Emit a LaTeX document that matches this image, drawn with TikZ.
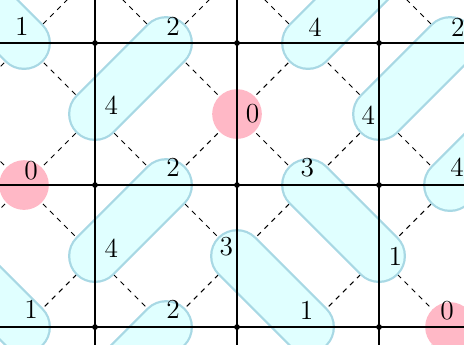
\documentclass[tikz,border=0pt]{standalone}
\definecolor{dimerfill}{RGB}{224,255,255}
\definecolor{dimerline}{RGB}{168,216,228}
\definecolor{monomerfill}{RGB}{255,184,198}
\begin{document}
\begin{tikzpicture}
  % Styling
  \tikzset{
    gridline/.style={line width=0.5pt, black},
    diag/.style={line width=0.4pt, black, dash pattern=on 2pt off 2pt},
    pillborder/.style={line width=21.6pt, line cap=round, draw=dimerline},
    pillfill/.style={line width=19.8pt, line cap=round, draw=dimerfill},
    monomer/.style={circle, fill=monomerfill, minimum size=0.7cm, inner sep=0pt},
    vertex/.style={circle, fill=black, minimum size=2.3pt, inner sep=0pt},
    num/.style={font=\fontsize{11}{13}\selectfont, inner sep=0pt, black}
  }

  \useasboundingbox (-0.338,-0.239) rectangle (6.197,4.606);
  \clip (-0.338,-0.239) rectangle (6.197,4.606);

  % ===== Sites =====
  \coordinate (s04) at (0,4);
  \coordinate (s24) at (2,4);
  \coordinate (s44) at (4,4);
  \coordinate (s64) at (6,4);
  \coordinate (s13) at (1,3);
  \coordinate (s53) at (5,3);
  \coordinate (s22) at (2,2);
  \coordinate (s42) at (4,2);
  \coordinate (s62) at (6,2);
  \coordinate (s11) at (1,1);
  \coordinate (s31) at (3,1);
  \coordinate (s51) at (5,1);
  \coordinate (s00) at (0,0);
  \coordinate (s20) at (2,0);
  \coordinate (s40) at (4,0);
  % sites outside the frame
  \coordinate (out1) at (-1,5);
  \coordinate (out2) at (5,5);
  \coordinate (out3) at (7,3);
  \coordinate (out4) at (-1,1);
  \coordinate (out5) at (1,-1);

  % ===== Dashed lattice =====
  \foreach \c in {-4,-2,...,6}
    \draw[diag] (\c-1,-1) -- (\c+6,6);
  \foreach \c in {0,2,...,10}
    \draw[diag] (\c+1,-1) -- (\c-6,6);

  % ===== Dimers =====
  \foreach \a/\b in {s04/out1, s13/s24, s44/out2, s53/s64, s11/s22,
                     s31/s40, s42/s51, s62/out3, s00/out4, s20/out5} {
    \draw[pillborder] (\a) -- (\b);
    \draw[pillfill] (\a) -- (\b);
  }

  % ===== Monomers =====
  \node[monomer] (mono1) at (3,3) {};
  \node[monomer] (mono2) at (0,2) {};
  \node[monomer] (mono3) at (6,0) {};

  % ===== Square grid =====
  \foreach \x in {1,3,5}
    \draw[gridline] (\x,-0.5) -- (\x,5);
  \foreach \y in {0,2,4}
    \draw[gridline] (-0.5,\y) -- (6.5,\y);
  \foreach \x in {1,3,5}
    \foreach \y in {0,2,4}
      \node[vertex] (v\x\y) at (\x,\y) {};

  % ===== Numbers =====
  \node[num] (n04) at (-0.03,4.24) {1};
  \node[num] (n24) at (2.10,4.23) {2};
  \node[num] (n44) at (4.10,4.22) {4};
  \node[num] (n64) at (6.11,4.22) {2};
  \node[num] (n13) at (1.23,3.13) {4};
  \node[num] (n33) at (3.22,3.00) {0};
  \node[num] (n53) at (4.85,2.99) {4};
  \node[num] (n02) at (0.10,2.20) {0};
  \node[num] (n22) at (2.10,2.25) {2};
  \node[num] (n42) at (3.99,2.25) {3};
  \node[num] (n62) at (6.10,2.25) {4};
  \node[num] (n11) at (1.23,1.11) {4};
  \node[num] (n31) at (2.85,1.13) {3};
  \node[num] (n51) at (5.23,0.99) {1};
  \node[num] (n00) at (0.10,0.25) {1};
  \node[num] (n20) at (2.10,0.25) {2};
  \node[num] (n40) at (3.98,0.24) {1};
  \node[num] (n60) at (5.96,0.23) {0};

\end{tikzpicture}
\end{document}
